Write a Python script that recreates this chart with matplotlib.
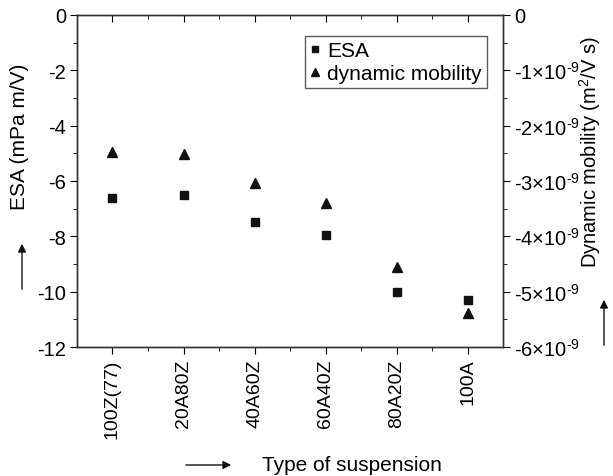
import matplotlib
matplotlib.use("Agg")
import matplotlib.pyplot as plt
import numpy as np

plt.rcParams['font.family'] = ['Liberation Sans', 'DejaVu Sans']
plt.rcParams['mathtext.fontset'] = 'custom'
plt.rcParams['mathtext.rm'] = 'Liberation Sans'
plt.rcParams['mathtext.it'] = 'Liberation Sans:italic'
plt.rcParams['font.size'] = 14

# data
suspensions = ['100Z(77)', '20A80Z', '40A60Z', '60A40Z', '80A20Z', '100A']
esa = [-6.62, -6.52, -7.49, -7.94, -10.02, -10.30]            # mPa m/V
mobility = [-2.47e-9, -2.52e-9, -3.04e-9, -3.40e-9, -4.56e-9, -5.39e-9]  # m2/V s

esa_ticks = [0, -2, -4, -6, -8, -10, -12]
mob_ticks = [0, -1e-9, -2e-9, -3e-9, -4e-9, -5e-9, -6e-9]
mob_ticklabels = ['0'] + [r'-%d×10$^{\text{-9}}$' % k for k in range(1, 7)]

fig = plt.figure(figsize=(6.13, 4.77), dpi=100)
ax = fig.add_axes([0.1256, 0.2704, 0.695, 0.6961])
ax2 = ax.twinx()

x = np.arange(len(suspensions))
l1, = ax.plot(x, esa, ls='none', marker='s', ms=5.5, color='#111111', label='ESA')
l2, = ax2.plot(x, mobility, ls='none', marker='^', ms=7, color='#111111', label='dynamic mobility')

ax.set_xlim(-0.5, 5.5)
ax.set_ylim(-12, 0)
ax2.set_ylim(-6e-9, 0)

ax.set_xticks(x)
ax.set_xticklabels(suspensions, rotation=90)
ax.set_xticks(x[:-1] + 0.5, minor=True)
ax.set_yticks(esa_ticks)
ax.set_yticklabels([str(v) for v in esa_ticks])
ax.set_yticks(np.arange(-11, 0, 2), minor=True)
ax2.set_yticks(mob_ticks)
ax2.set_yticklabels(mob_ticklabels)
ax2.set_yticks(np.arange(-5.5e-9, 0, 1e-9), minor=True)

ax.tick_params(axis='x', which='both', direction='out', top=True, length=5, pad=3, labelsize=14)
ax.tick_params(axis='x', which='minor', length=3)
ax.tick_params(axis='y', which='major', direction='out', length=5, pad=3, labelsize=14.5)
ax.tick_params(axis='y', which='minor', direction='out', length=3)
ax2.tick_params(axis='y', which='major', direction='out', length=5, pad=3, labelsize=14.5)
ax2.tick_params(axis='y', which='minor', direction='out', length=3)
for spine in list(ax.spines.values()) + list(ax2.spines.values()):
    spine.set_color('#333333')
    spine.set_linewidth(1.0)

# top ticks point inward
for t in ax.xaxis.get_major_ticks() + ax.xaxis.get_minor_ticks():
    t.tick2line.set_marker(3)

leg = ax.legend(handles=[l1, l2], loc='upper right', bbox_to_anchor=(0.963, 0.937),
                frameon=True, fancybox=False, edgecolor='#333333', fontsize=15,
                handlelength=0.5, handletextpad=0.35, borderpad=0.25, labelspacing=0.2,
                markerscale=0.75, borderaxespad=0)
leg.get_frame().set_linewidth(1.0)

W, H = 613.0, 477.0
fig.text(20 / W, 1 - 137 / H, 'ESA (mPa m/V)', rotation=90, ha='center', va='center', fontsize=15)
fig.text(590 / W, 1 - 152 / H, r'Dynamic mobility (m$^2$/V s)', rotation=90, ha='center',
         va='center', fontsize=14.5)
fig.text(262 / W, 1 - 466 / H, 'Type of suspension', ha='left', va='center', fontsize=15)

arrow = dict(arrowstyle='-|>', color='#111111', lw=1.0, mutation_scale=12)
fig.add_artist(plt.Annotation('', xy=(22 / W, 1 - 242 / H), xytext=(22 / W, 1 - 293 / H),
                              xycoords='figure fraction', arrowprops=arrow))
fig.add_artist(plt.Annotation('', xy=(604 / W, 1 - 298 / H), xytext=(604 / W, 1 - 349 / H),
                              xycoords='figure fraction', arrowprops=arrow))
fig.add_artist(plt.Annotation('', xy=(234 / W, 1 - 466 / H), xytext=(183 / W, 1 - 466 / H),
                              xycoords='figure fraction', arrowprops=arrow))

fig.savefig('out.png', dpi=100)
